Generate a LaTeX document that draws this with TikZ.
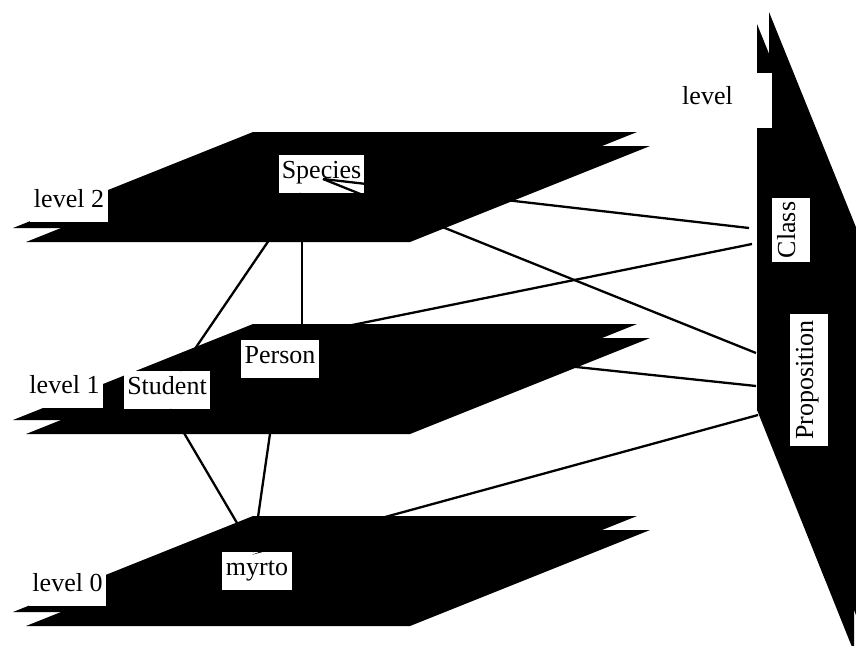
\documentclass[tikz,border=0pt]{standalone}
\usepackage{fontspec}
\setmainfont{Liberation Serif}
\usetikzlibrary{calc}
\tikzset{
  plane/.style={fill=black, draw=none},
  lbl/.style={fill=white, inner sep=0pt, text height=23pt, text depth=15pt,
    font=\fontsize{26pt}{30pt}\selectfont},
  link/.style={line width=2.3pt}
}
\begin{document}
\begin{tikzpicture}[x=1pt,y=-1pt]
\useasboundingbox (0,0) rectangle (856,645);
\clip (0,0) rectangle (856,645);
% connector ends
\coordinate (spc) at (323,179);
\coordinate (clsA) at (749,228);
\coordinate (clsB) at (752,244);
\coordinate (prA) at (756,353);
\coordinate (prB) at (756,386);
\coordinate (prC) at (758,415);
% level 2 plane
\fill[plane] (13,228) -- (253,132) -- (637,132) -- (397,228) -- cycle;
\fill[plane] (26,242) -- (266,146) -- (650,146) -- (410,242) -- cycle;
% level 1 plane
\fill[plane] (13,420) -- (253,324) -- (637,324) -- (397,420) -- cycle;
\fill[plane] (26,434) -- (266,338) -- (650,338) -- (410,434) -- cycle;
% level 0 plane
\fill[plane] (13,612) -- (253,516) -- (637,516) -- (397,612) -- cycle;
\fill[plane] (26,626) -- (266,530) -- (650,530) -- (410,626) -- cycle;
% vertical plane
\fill[plane] (757,24) -- (854,264) -- (854,652) -- (757,410) -- cycle;
\fill[plane] (769,12) -- (866,252) -- (866,640) -- (769,398) -- cycle;
% labels
\node[lbl, minimum width=78pt] (lv2) at (69,203) {level 2};
\node[lbl, minimum width=77pt] (lv1) at (64.5,389) {level 1};
\node[lbl, minimum width=77pt] (lv0) at (67.5,587) {level 0};
\node[lbl, minimum width=129pt, minimum height=55pt] (lvm) at (707.5,100.5) {level};
\node[lbl, minimum width=85pt] (species) at (321.5,174) {Species};
\node[lbl, minimum width=78pt] (person) at (280,359) {Person};
\node[lbl, minimum width=86pt] (student) at (167,390) {Student};
\node[lbl, minimum width=70pt] (myrto) at (257,571) {myrto};
\node[lbl, minimum width=64pt, rotate=90] (class) at (791,230) {Class};
\node[lbl, minimum width=132pt, rotate=90] (prop) at (809,380) {Proposition};
% connectors
\draw[link] (spc) -- (clsA);
\draw[link] (spc) -- (prA);
\draw[link] ($(species.south)+(-20.5,0)$) -- ($(student.north)+(13,0)$);
\draw[link] ($(species.south)+(-19.5,0)$) -- ($(person.north)+(22,0)$);
\draw[link] ($(person.north)+(6.6,-1.5)$) -- (clsB);
\draw[link] (person.north east) -- (prB);
\draw[link] ($(myrto.north)+(1,0)$) -- (prC);
\draw[link] ($(student.south)+(3,0)$) -- ($(myrto.north)+(-3,0)$);
\draw[link] ($(person.south)+(-2,0)$) -- ($(myrto.north)+(-4,0)$);
\fill ($(myrto.north)+(-5,3)$) -- ($(myrto.north)+(8,-0.5)$) -- ($(myrto.north)+(0,1)$) -- cycle;
\end{tikzpicture}
\end{document}
